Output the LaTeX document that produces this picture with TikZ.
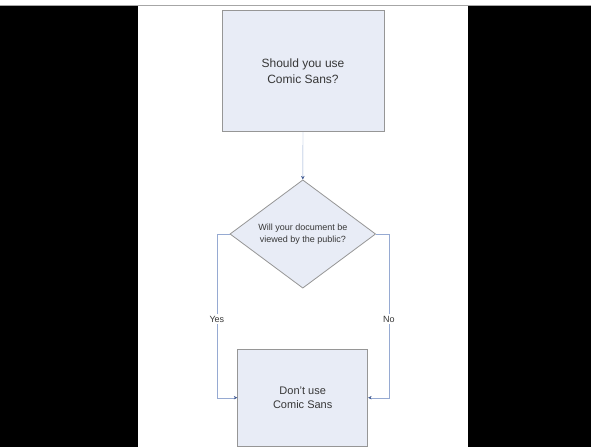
\documentclass[tikz,border=0pt]{standalone}
\usepackage{fontspec}
\setmainfont{Liberation Sans}
\usetikzlibrary{shapes.geometric,arrows.meta}
\definecolor{boxfill}{RGB}{232,236,246}
\definecolor{boxline}{RGB}{150,150,150}
\definecolor{connline}{RGB}{150,170,210}
\definecolor{tipcol}{RGB}{70,95,150}
\definecolor{txt}{RGB}{55,55,55}
\begin{document}
\begin{tikzpicture}[x=1pt, y=-1pt,
    box/.style={draw=boxline, fill=boxfill, thick, text=txt, align=center, inner sep=0pt},
    conn/.style={draw=connline, -{Stealth[length=3.5pt,width=3.5pt,color=tipcol]}},
    lbl/.style={fill=white, text=txt, font=\fontsize{9}{10}\selectfont, inner sep=1.5pt}]
    \useasboundingbox (0,0) rectangle (591,447);
  \fill[white](0,0) rectangle (591,447);
  \fill[black](0,6) rectangle (138,447);
  \fill[black](468,6) rectangle (591,447);
  \draw[gray!70](0,5.5)--(591,5.5);

\node[box, minimum width=162pt, minimum height=121pt, font=\fontsize{12}{16}\selectfont]
  (ask) at (303,71.3) {Should you use\\Comic Sans?};
\node[box, diamond, minimum width=145.7pt, minimum height=108.3pt, aspect=1.35, font=\fontsize{9}{12}\selectfont]
  (public) at (302.8,234) {Will your document be\\viewed by the public?};
\node[box, minimum width=130pt, minimum height=97pt, font=\fontsize{11}{14.3}\selectfont]
  (dont) at (302.7,397.7) {Don't use\\Comic Sans};

\draw[conn](ask.south)--(public.north);
\draw[conn](public.west)--++(-12.7,0)|-(dont.west) node[lbl, pos=.26]{Yes};
\draw[conn](public.east)--++(12.7,0)|-(dont.east) node[lbl, pos=.26]{No};

\end{tikzpicture}
\end{document}
